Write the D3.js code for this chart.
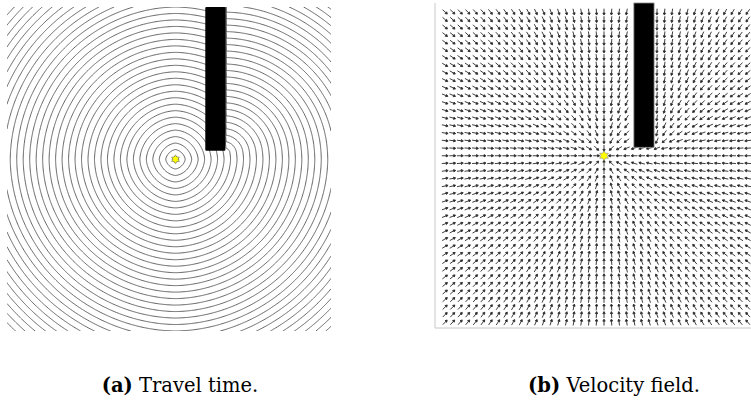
<!DOCTYPE html>
<html><head><meta charset="utf-8">
<script src="https://cdn.jsdelivr.net/npm/d3@7"></script>
<style>body{margin:0;background:#fff}svg{display:block}
.cap{font-family:"DejaVu Serif","Liberation Serif",serif;}</style>
</head><body><svg id="c" width="751" height="404"></svg>
<script>
// ---- data / parameters (domain units 0..100, y downward) ----
const domain = [0, 100];
const gridNodes = [301, 301];          // travel-time solver grid
const source = [52, 47];               // yellow star position
const obstacleX = [61.2, 67.4];        // black wall
const obstacleY = [0, 44.4];
const contourLevels = d3.range(1, 81, 2);   // travel-time iso-levels
const arrowStep = 2.33;                // velocity-field sampling step
const arrowMargin = 1;
const captionTags = ["(a)", "(b)"];
const captionTexts = [" Travel time.", " Velocity field."];

// ---- travel time: first-order eikonal solve (fast sweeping) ----
const N = gridNodes[0], h = (domain[1] - domain[0]) / (N - 1), INF = 1e9;
const T = new Float64Array(N * N).fill(INF);
const blocked = new Uint8Array(N * N);
for (let j = 0; j < N; j++) for (let i = 0; i < N; i++) {
  const x = i * h, y = j * h;
  if (x >= obstacleX[0] && x <= obstacleX[1] && y >= obstacleY[0] && y <= obstacleY[1]) blocked[j * N + i] = 1;
}
const si = Math.round(source[0] / h), sj = Math.round(source[1] / h), sk = sj * N + si;
T[sk] = 0;
function sweep(onlyBlocked) {
  const orders = [[1, 1], [-1, 1], [1, -1], [-1, -1]];
  for (let it = 0; it < 4; it++) for (const [di, dj] of orders) {
    for (let jj = 0; jj < N; jj++) {
      const j = dj > 0 ? jj : N - 1 - jj;
      for (let ii = 0; ii < N; ii++) {
        const i = di > 0 ? ii : N - 1 - ii, k = j * N + i;
        if (k === sk) continue;
        if (onlyBlocked ? !blocked[k] : blocked[k]) continue;
        const a = Math.min(i > 0 ? T[k - 1] : INF, i < N - 1 ? T[k + 1] : INF);
        const b = Math.min(j > 0 ? T[k - N] : INF, j < N - 1 ? T[k + N] : INF);
        if (a >= INF && b >= INF) continue;
        let t;
        if (Math.abs(a - b) >= h) t = Math.min(a, b) + h;
        else t = (a + b + Math.sqrt(2 * h * h - (a - b) * (a - b))) / 2;
        if (t < T[k]) T[k] = t;
      }
    }
  }
}
sweep(false);   // free space
sweep(true);    // smooth extension under the wall (hidden by it)

// gradient at nodes
const GX = new Float64Array(N * N), GY = new Float64Array(N * N);
for (let j = 0; j < N; j++) for (let i = 0; i < N; i++) {
  const k = j * N + i;
  GX[k] = i === 0 ? (T[k + 1] - T[k]) / h : i === N - 1 ? (T[k] - T[k - 1]) / h : (T[k + 1] - T[k - 1]) / (2 * h);
  GY[k] = j === 0 ? (T[k + N] - T[k]) / h : j === N - 1 ? (T[k] - T[k - N]) / h : (T[k + N] - T[k - N]) / (2 * h);
}
function sample(arr, x, y) {
  const fx = x / h, fy = y / h;
  const i0 = Math.min(N - 2, Math.max(0, Math.floor(fx))), j0 = Math.min(N - 2, Math.max(0, Math.floor(fy)));
  const tx = fx - i0, ty = fy - j0, k = j0 * N + i0;
  return arr[k] * (1 - tx) * (1 - ty) + arr[k + 1] * tx * (1 - ty) + arr[k + N] * (1 - tx) * ty + arr[k + N + 1] * tx * ty;
}

const svg = d3.select("#c");

// ---------------- panel (a) ----------------
const xL = d3.scaleLinear(domain, [7, 331]), yL = d3.scaleLinear(domain, [7, 331]);
svg.append("clipPath").attr("id", "clipL").append("rect")
  .attr("x", xL(0)).attr("y", yL(0)).attr("width", xL(100) - xL(0)).attr("height", yL(100) - yL(0));
const contours = d3.contours().size([N, N]).thresholds(contourLevels)(Array.from(T));
const projL = d3.geoTransform({ point: function (x, y) { this.stream.point(xL((x - 0.5) * h), yL((y - 0.5) * h)); } });
svg.append("g").attr("clip-path", "url(#clipL)")
  .selectAll("path").data(contours).join("path")
  .attr("d", d3.geoPath(projL)).attr("fill", "none").attr("stroke", "#555").attr("stroke-width", 0.9);
svg.append("rect").attr("x", xL(obstacleX[0])).attr("y", yL(obstacleY[0]))
  .attr("width", xL(obstacleX[1]) - xL(obstacleX[0])).attr("height", yL(obstacleY[1]) - yL(obstacleY[0]))
  .attr("fill", "#000").attr("rx", 1);

function hexagram(cx, cy, R) {
  const pts = [];
  for (let q = 0; q < 12; q++) {
    const r = q % 2 === 0 ? R : R / Math.sqrt(3), ang = -Math.PI / 2 + q * Math.PI / 6;
    pts.push([cx + r * Math.cos(ang), cy + r * Math.sin(ang)]);
  }
  return "M" + pts.map(p => p.join(",")).join("L") + "Z";
}
svg.append("path").attr("d", hexagram(xL(source[0]), yL(source[1]), 4.5))
  .attr("fill", "#ffff00").attr("stroke", "#777").attr("stroke-width", 0.6);

// ---------------- panel (b) ----------------
const xR = d3.scaleLinear(domain, [435, 760]), yR = d3.scaleLinear(domain, [3, 328]);
svg.append("path").attr("d", `M${xR(0)},${yR(0)}V${yR(100)}H${xR(100)}`)
  .attr("fill", "none").attr("stroke", "#c8c8c8").attr("stroke-width", 1);

const arrowXs = [], arrowYs = [];
for (let x = source[0] - Math.floor((source[0] - arrowMargin) / arrowStep) * arrowStep; x <= domain[1] - arrowMargin + 1e-9; x += arrowStep) arrowXs.push(x);
for (let y = source[1] - Math.floor((source[1] - arrowMargin) / arrowStep) * arrowStep; y <= domain[1] - arrowMargin + 1e-9; y += arrowStep) arrowYs.push(y);
const arrows = [];
for (const y of arrowYs) for (const x of arrowXs) {
  if (x >= obstacleX[0] && x <= obstacleX[1] && y <= obstacleY[1]) continue;
  const gx = sample(GX, x, y), gy = sample(GY, x, y), m = Math.hypot(gx, gy);
  if (m < 0.2 || Math.hypot(x - source[0], y - source[1]) < 0.5) continue;
  arrows.push({ x, y, dx: -gx / m, dy: -gy / m });
}
const L = 6.4, HL = 2.0, HW = 1.15;
svg.append("g").selectAll("path").data(arrows).join("path")
  .attr("d", a => {
    const cx = xR(a.x), cy = yR(a.y);
    const tx = cx - a.dx * L / 2, ty = cy - a.dy * L / 2, hx = cx + a.dx * L / 2, hy = cy + a.dy * L / 2;
    const bx = hx - a.dx * HL, by = hy - a.dy * HL, px = -a.dy * HW, py = a.dx * HW;
    return `M${tx},${ty}L${bx},${by}M${hx},${hy}L${bx + px},${by + py}L${bx - px},${by - py}Z`;
  })
  .attr("fill", "#1a1a1a").attr("stroke", "#333").attr("stroke-width", 0.95);

svg.append("rect").attr("x", xR(obstacleX[0])).attr("y", yR(obstacleY[0]))
  .attr("width", xR(obstacleX[1]) - xR(obstacleX[0])).attr("height", yR(obstacleY[1]) - yR(obstacleY[0]))
  .attr("fill", "#000").attr("stroke", "#888").attr("stroke-width", 0.8);
svg.append("path").attr("d", hexagram(xR(source[0]), yR(source[1]), 5))
  .attr("fill", "#ffff00").attr("stroke", "#888").attr("stroke-width", 0.6);

// ---------------- captions ----------------
const capX = [180, 614];
captionTags.forEach((tag, i) => {
  const t = svg.append("text").attr("class", "cap").attr("x", capX[i]).attr("y", 392).attr("text-anchor", "middle")
    .attr("font-size", 19.5).attr("fill", "#000");
  t.append("tspan").attr("font-weight", "bold").text(tag);
  t.append("tspan").text(captionTexts[i]);
});
</script></body></html>
